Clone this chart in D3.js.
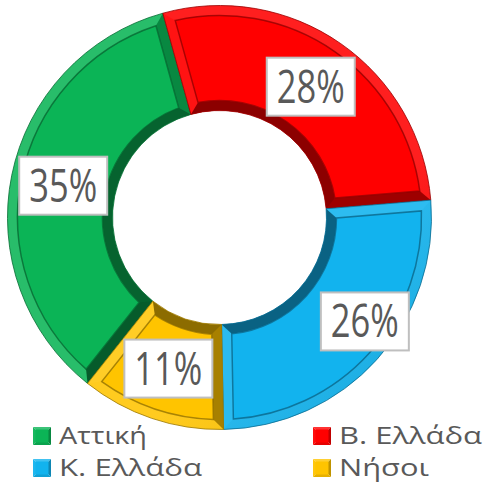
<!DOCTYPE html>
<meta charset="utf-8">
<script src="https://d3js.org/d3.v7.min.js"></script>
<div id="my_dataviz"></div>
<style>
  body { margin: 0; background: #fff; }
  #my_dataviz { font-family: 'Open Sans', 'DejaVu Sans', sans-serif; }
</style>
<script>

// data
var regions = ["Αττική", "Β. Ελλάδα", "Κ. Ελλάδα", "Νήσοι"];
var shares = [35, 28, 26, 11];
var colors = ["#0BB456", "#FF0000", "#12B3EE", "#FFC400"];

// chart size
var width = 488, height = 484;
var cx = 219.5, cy = 217.5;
var outerR = 212, innerR = 107, bevel = 10;
var firstAngle = 218.5 * Math.PI / 180;   // excel "first slice angle"

var svg = d3.select("#my_dataviz")
  .append("svg")
    .attr("width", width)
    .attr("height", height);

var defs = svg.append("defs");

function shade(c, k) {
  // k > 0 lighter, k < 0 darker
  return k > 0 ? d3.interpolateRgb(c, "#ffffff")(k) : d3.interpolateRgb(c, "#000000")(-k);
}

// gradients: light comes from top-left
colors.forEach(function(c, i) {
  var gOut = defs.append("linearGradient")
    .attr("id", "gout" + i)
    .attr("gradientUnits", "userSpaceOnUse")
    .attr("x1", cx - outerR * 0.7).attr("y1", cy - outerR * 0.7)
    .attr("x2", cx + outerR * 0.7).attr("y2", cy + outerR * 0.7);
  gOut.append("stop").attr("offset", 0).attr("stop-color", shade(c, 0.12));
  gOut.append("stop").attr("offset", 0.5).attr("stop-color", shade(c, -0.08));
  gOut.append("stop").attr("offset", 1).attr("stop-color", shade(c, -0.4));

  var gIn = defs.append("linearGradient")
    .attr("id", "gin" + i)
    .attr("gradientUnits", "userSpaceOnUse")
    .attr("x1", cx - innerR * 0.7).attr("y1", cy - innerR * 0.7)
    .attr("x2", cx + innerR * 0.7).attr("y2", cy + innerR * 0.7);
  gIn.append("stop").attr("offset", 0).attr("stop-color", shade(c, -0.45));
  gIn.append("stop").attr("offset", 0.5).attr("stop-color", shade(c, -0.15));
  gIn.append("stop").attr("offset", 1).attr("stop-color", shade(c, 0.2));
});

var pie = d3.pie()
  .sort(null)
  .value(function(d) { return d; })
  .startAngle(firstAngle)
  .endAngle(firstAngle + 2 * Math.PI);

var arcs = pie(shares);

var arcFull = d3.arc().innerRadius(innerR).outerRadius(outerR);
var arcInner = d3.arc().innerRadius(innerR).outerRadius(innerR + bevel);
var padR = 100;
var arcFace = d3.arc()
  .innerRadius(innerR + bevel)
  .outerRadius(outerR - bevel)
  .padRadius(padR)
  .padAngle(2 * Math.asin(bevel / padR));

function pt(r, a) { return [r * Math.sin(a), -r * Math.cos(a)]; }

var ring = svg.append("g").attr("transform", "translate(" + cx + "," + cy + ")");

var slice = ring.selectAll(".slice")
  .data(arcs)
  .enter()
  .append("g")
    .attr("class", "slice");

// outer bevel (whole slice)
slice.append("path")
  .attr("d", arcFull)
  .attr("fill", function(d, i) { return "url(#gout" + i + ")"; });

// inner bevel
slice.append("path")
  .attr("d", arcInner)
  .attr("fill", function(d, i) { return "url(#gin" + i + ")"; });

// radial side bevels
function side(d, which) {
  var a = which === 0 ? d.startAngle : d.endAngle;
  var s = which === 0 ? 1 : -1;
  var p1 = pt(outerR, a), p2 = pt(innerR, a);
  var p3 = pt(innerR + bevel, a + s * Math.asin(bevel / (innerR + bevel)));
  var p4 = pt(outerR - bevel, a + s * Math.asin(bevel / (outerR - bevel)));
  return "M" + [p1, p2, p3, p4].join("L") + "Z";
}
function sideLight(d, which) {
  var a = which === 0 ? d.startAngle : d.endAngle;
  // normal of the side face
  var na = which === 0 ? a - Math.PI / 2 : a + Math.PI / 2;
  var n = [Math.sin(na), -Math.cos(na)];
  return (-n[0] - n[1]) / Math.SQRT2;
}
[0, 1].forEach(function(w) {
  slice.append("path")
    .attr("d", function(d) { return side(d, w); })
    .attr("fill", function(d, i) {
      var l = sideLight(d, w);
      return shade(colors[i], l > 0 ? l * 0.15 : l * 0.5);
    });
});

// flat face
slice.append("path")
  .attr("d", arcFace)
  .attr("fill", function(d, i) { return colors[i]; })
  .attr("stroke", function(d, i) { return shade(colors[i], -0.45); })
  .attr("stroke-width", 1.5)
  .attr("stroke-opacity", 0.75);

// thin outline of slices
slice.append("path")
  .attr("d", arcFull)
  .attr("fill", "none")
  .attr("stroke", function(d, i) { return shade(colors[i], -0.4); })
  .attr("stroke-width", 0.8);

// ---------- data labels ----------
var labelR = (innerR + outerR) / 2;
var labelNudge = [[0, 0], [0, 0], [27, -3], [0, 0]];
var boxW = 88, boxH = 58;

var labels = ring.selectAll(".lbl")
  .data(arcs)
  .enter()
  .append("g")
    .attr("class", "lbl")
    .attr("transform", function(d, i) {
      var m = (d.startAngle + d.endAngle) / 2;
      var p = pt(labelR, m);
      return "translate(" + (p[0] + labelNudge[i][0]) + "," + (p[1] + labelNudge[i][1]) + ")";
    });

labels.append("rect")
  .attr("x", -boxW / 2).attr("y", -boxH / 2)
  .attr("width", boxW).attr("height", boxH)
  .attr("fill", "#ffffff")
  .attr("stroke", "#BFBFBF")
  .attr("stroke-width", 2);

labels.append("text")
  .attr("text-anchor", "middle")
  .attr("y", 16)
  .attr("fill", "#595959")
  .style("font-size", "45px")
  .attr("textLength", 68)
  .attr("lengthAdjust", "spacingAndGlyphs")
  .text(function(d) { return d.data + "%"; });

// ---------- legend ----------
var legX = [33, 313], legY = [427, 459], sq = 18;
var legWidths = [88, 143, 143, 90];

var leg = svg.selectAll(".leg")
  .data(regions)
  .enter()
  .append("g")
    .attr("class", "leg")
    .attr("transform", function(d, i) {
      return "translate(" + legX[i % 2] + "," + legY[Math.floor(i / 2)] + ")";
    });

// little pyramid squares
var tri = [
  { p: [[0, 0], [sq, 0], [sq / 2, sq / 2]], k: 0.2 },
  { p: [[0, 0], [0, sq], [sq / 2, sq / 2]], k: 0.05 },
  { p: [[sq, 0], [sq, sq], [sq / 2, sq / 2]], k: -0.25 },
  { p: [[0, sq], [sq, sq], [sq / 2, sq / 2]], k: -0.1 }
];
leg.each(function(d, i) {
  var g = d3.select(this);
  tri.forEach(function(t) {
    g.append("path")
      .attr("d", "M" + t.p.join("L") + "Z")
      .attr("fill", shade(colors[i], t.k));
  });
  g.append("rect")
    .attr("x", 2.5).attr("y", 2.5)
    .attr("width", sq - 5).attr("height", sq - 5)
    .attr("fill", colors[i]);
});

leg.append("text")
  .attr("x", 26)
  .attr("y", 17)
  .attr("fill", "#595959")
  .style("font-size", "24px")
  .attr("textLength", function(d, i) { return legWidths[i]; })
  .attr("lengthAdjust", "spacingAndGlyphs")
  .text(function(d) { return d; });

</script>
